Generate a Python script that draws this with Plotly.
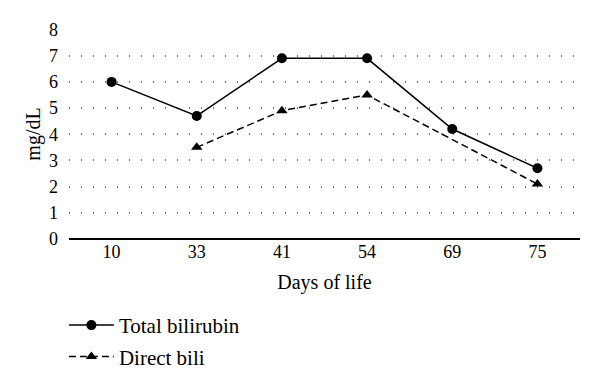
import plotly.graph_objects as go

days = ["10", "33", "41", "54", "69", "75"]
total_bilirubin = [6.0, 4.7, 6.9, 6.9, 4.2, 2.7]
direct_bili = [None, 3.5, 4.9, 5.5, None, 2.1]
y_ticks = [0, 1, 2, 3, 4, 5, 6, 7, 8]

FONT = "Liberation Serif"

fig = go.Figure()
fig.add_trace(go.Scatter(
    x=days, y=total_bilirubin, name="Total bilirubin", mode="lines+markers",
    legendgroup="a",
    line=dict(color="black", width=1.5),
    marker=dict(symbol="circle", size=10, color="black"),
))
fig.add_trace(go.Scatter(
    x=days, y=direct_bili, name="Direct bili", mode="lines+markers",
    legendgroup="b", connectgaps=True,
    line=dict(color="black", width=1.5, dash="7px,4px"),
    marker=dict(symbol="triangle-up", size=10, color="black"),
))

# page has an 8px body margin, so the figure is 8px smaller than the window
fig.update_layout(
    width=592, height=373,
    margin=dict(l=61, r=20, t=21, b=142, autoexpand=False),
    paper_bgcolor="white", plot_bgcolor="white",
    font=dict(family=FONT, size=18, color="black"),
    showlegend=True,
    legend=dict(x=-0.01, y=-0.314, xanchor="left", yanchor="top",
                itemwidth=45, traceorder="grouped", tracegroupgap=1,
                bgcolor="rgba(0,0,0,0)", font=dict(family=FONT, size=21)),
    xaxis=dict(
        type="category", showgrid=False, showline=False, zeroline=False,
        ticks="", tickfont=dict(family=FONT, size=18),
        title=dict(text="Days of life", standoff=13, font=dict(family=FONT, size=20)),
        range=[-0.5, 5.5], automargin=False,
    ),
    yaxis=dict(
        range=[0, 8.02], tickvals=y_ticks, showgrid=True,
        gridcolor="#777", griddash="1px,11px", gridwidth=1.5,
        zeroline=True, zerolinecolor="black", zerolinewidth=1.5,
        showline=False, ticks="", tickfont=dict(family=FONT, size=18),
        ticklabelstandoff=10, automargin=False,
        title=dict(text="mg/dL", standoff=3, font=dict(family=FONT, size=20)),
    ),
)

fig.write_html("out.html")
